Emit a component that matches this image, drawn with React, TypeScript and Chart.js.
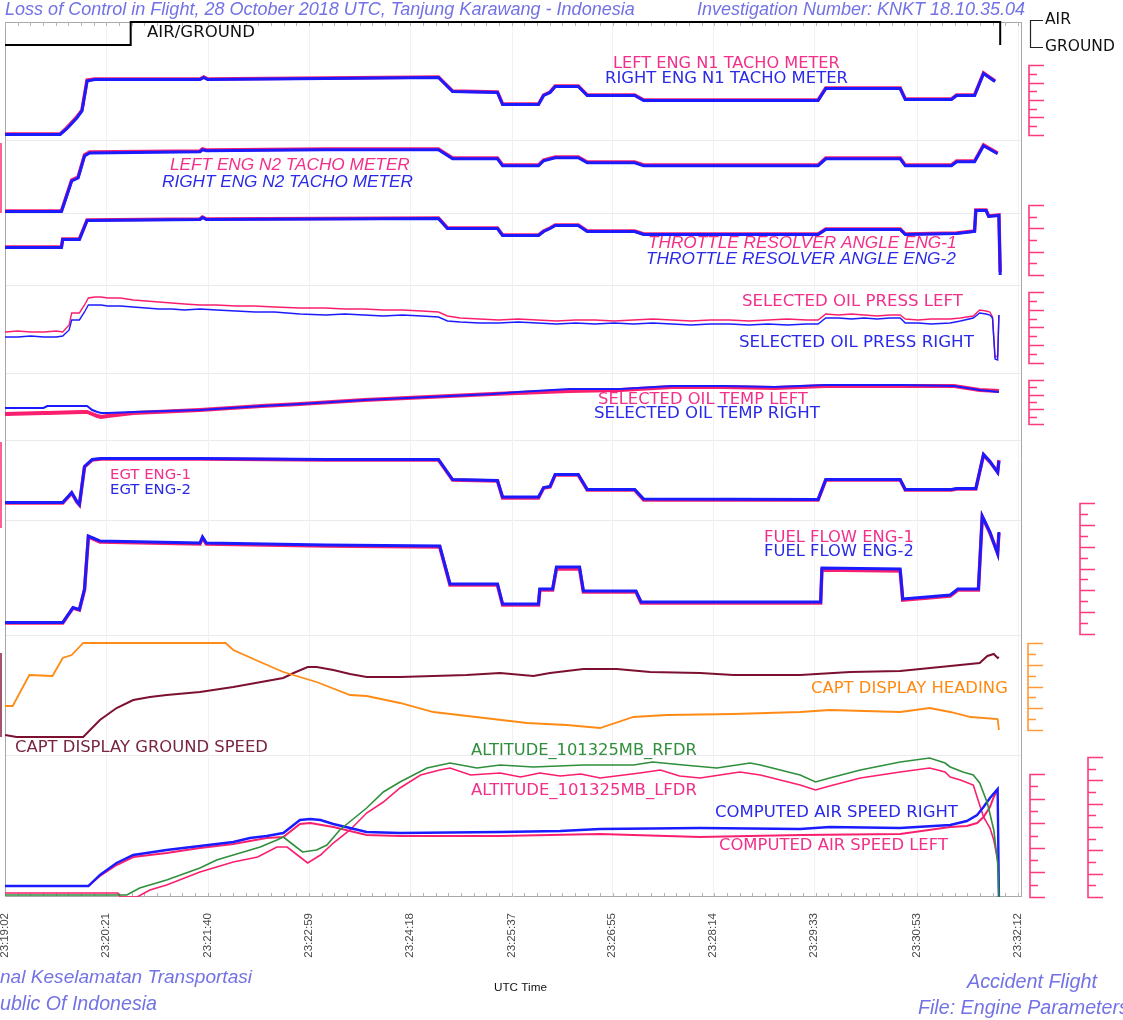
import React, { useEffect, useRef } from "react";
import { Chart, registerables } from "chart.js";

Chart.register(...registerables);

// ---------------- X axis (seconds after 23:19:02) ----------------
const tickSeconds = [0, 79, 158, 237, 316, 395, 473, 552, 631, 711, 790];
const tickLabels = ["23:19:02", "23:20:21", "23:21:40", "23:22:59", "23:24:18", "23:25:37", "23:26:55", "23:28:14", "23:29:33", "23:30:53", "23:32:12"];

// ---------------- AIR / GROUND (1 = air) ----------------
const agTime = [0, 98, 776];
const agValue = [0, 1, 0];

// ---------------- N1 (%) ----------------
const n1Time = [0, 43, 48, 56, 60, 64, 70, 152, 155, 158, 250, 338, 349, 384, 388, 416, 420, 425, 429, 447, 454, 491, 498, 634, 640, 698, 702, 738, 742, 756, 763, 772];
const n1Left = [31, 31, 37, 48, 55, 85, 86, 86, 88, 86, 87, 88, 74, 73, 61, 61, 70, 73, 79, 79, 70, 70, 65, 65, 77, 77, 66, 66, 70, 70, 92, 84];
const n1Right = [30.5, 30.5, 36, 47, 54, 84, 85.5, 85.5, 87.5, 85.5, 86.5, 87.5, 73.5, 72.5, 60.5, 60.5, 69.5, 72.5, 78.5, 78.5, 69.5, 69.5, 64.5, 64.5, 76.5, 76.5, 65.5, 65.5, 69.5, 69.5, 91.5, 83.5];

// ---------------- N2 (%) ----------------
const n2Time = [0, 44, 52, 57, 62, 66, 152, 154, 157, 250, 338, 349, 384, 388, 416, 420, 429, 447, 454, 491, 498, 634, 640, 698, 702, 738, 742, 756, 763, 774];
const n2Left = [60, 60, 75.5, 77, 88, 89.5, 90, 91, 90.5, 91, 91, 86.5, 86.5, 83, 83, 85.5, 87, 87, 84.5, 84.5, 83, 83, 86.5, 86.5, 83, 83, 85, 85, 93, 89];
const n2Right = [59.7, 59.7, 75, 76.5, 87.5, 89, 89.6, 90.6, 90.1, 90.6, 90.6, 86.1, 86.1, 82.6, 82.6, 85.1, 86.6, 86.6, 84.1, 84.1, 82.6, 82.6, 86.1, 86.1, 82.6, 82.6, 84.6, 84.6, 92.6, 88.6];

// ---------------- Throttle resolver angle (deg) ----------------
const traTime = [0, 44, 45, 58, 64, 152, 154, 157, 338, 345, 384, 388, 416, 420, 425, 429, 447, 454, 491, 498, 634, 640, 698, 702, 742, 756, 757, 765, 767, 775, 776];
const traLeft = [33, 33, 41, 41, 60, 61, 63, 61, 62, 52, 52, 45, 45, 49, 52, 55, 55, 49, 49, 46, 46, 51, 51, 46, 47, 49, 70, 70, 64, 65, 8];
const traRight = [32.5, 32.5, 40.5, 40.5, 59.5, 60.5, 62.5, 60.5, 61.5, 51.5, 51.5, 44.5, 44.5, 48.5, 51.5, 54.5, 54.5, 48.5, 48.5, 45.5, 45.5, 50.5, 50.5, 45.5, 46.5, 48.5, 69.5, 69.5, 63.5, 64.5, 5];

// ---------------- Oil pressure (psi) ----------------
const opTime = [0, 10, 20, 30, 40, 45, 50, 52, 58, 62, 65, 70, 75, 80, 90, 100, 110, 120, 130, 140, 152, 165, 180, 195, 210, 230, 250, 265, 280, 295, 310, 325, 338, 345, 355, 370, 385, 400, 415, 430, 445, 460, 475, 490, 505, 520, 535, 550, 565, 580, 595, 610, 625, 634, 640, 650, 660, 670, 680, 690, 698, 702, 712, 722, 737, 745, 755, 760, 765, 768, 770, 772, 774, 775];
const opLeft = [31, 32, 31, 31, 32, 31, 38, 50, 50, 58, 65, 66, 66, 65, 65, 63, 62, 61, 60, 59, 58, 58, 57, 57, 56, 55, 55, 54, 54, 53, 53, 52, 51, 47, 45, 44, 43, 44, 43, 42, 43, 43, 42, 43, 44, 43, 42, 43, 43, 42, 43, 44, 43, 43, 49, 48, 49, 48, 47, 48, 48, 44, 43, 44, 44, 45, 47, 53, 52, 51, 46, 6, 7, 48];
const opRight = [26, 26, 27, 26, 26, 27, 33, 43, 43, 51, 58, 58, 58, 57, 57, 56, 55, 54, 54, 53, 54, 53, 52, 51, 51, 49, 48, 49, 48, 47, 48, 47, 46, 42, 41, 40, 40, 41, 40, 39, 40, 39, 40, 39, 40, 39, 38, 39, 39, 38, 39, 38, 39, 39, 45, 45, 44, 45, 44, 45, 45, 40, 40, 39, 40, 42, 45, 50, 49, 48, 45, 4, 3, 48];

// ---------------- Oil temperature (deg C) ----------------
const otTime = [0, 30, 33, 60, 64, 68, 72, 75, 80, 100, 152, 200, 230, 280, 330, 380, 400, 440, 480, 520, 560, 600, 640, 700, 740, 760, 775];
const otLeft = [62, 64, 64, 66, 66, 62, 58, 56, 58, 64, 70, 78, 82, 90, 96, 102, 104, 108, 110, 116, 116, 114, 118, 118, 118, 110, 108];
const otRight = [74, 74, 78, 78, 78, 70, 66, 64, 64, 66, 70, 78, 82, 90, 96, 102, 106, 112, 112, 118, 118, 116, 120, 120, 118, 110, 106];

// ---------------- EGT (deg C) ----------------
const egtTime = [0, 45, 50, 52, 56, 58, 62, 68, 75, 152, 250, 338, 349, 384, 388, 416, 420, 425, 429, 447, 454, 491, 498, 634, 640, 698, 702, 738, 742, 757, 763, 768, 774, 775];
const egtLeft = [370, 370, 440, 470, 380, 350, 730, 800, 810, 810, 800, 800, 600, 590, 420, 420, 520, 530, 650, 650, 500, 500, 400, 400, 600, 600, 500, 500, 510, 510, 850, 780, 680, 800];
const egtRight = [375, 375, 445, 475, 385, 355, 735, 805, 815, 815, 805, 805, 605, 595, 430, 430, 525, 535, 655, 655, 505, 505, 410, 405, 605, 605, 505, 505, 515, 515, 855, 785, 675, 790];

// ---------------- Fuel flow (pph) ----------------
const ffTime = [0, 45, 53, 58, 62, 65, 74, 152, 154, 157, 250, 339, 347, 384, 388, 416, 417, 427, 430, 448, 451, 492, 496, 636, 637, 698, 700, 737, 743, 759, 762, 768, 774, 775];
const ffLeft = [850, 850, 1600, 1500, 2500, 5150, 4900, 4800, 5100, 4800, 4700, 4650, 2750, 2750, 1750, 1750, 2500, 2500, 3550, 3550, 2400, 2400, 1850, 1850, 3500, 3450, 2000, 2200, 2500, 2500, 6150, 5350, 4350, 5350];
const ffRight = [870, 870, 1620, 1520, 2550, 5200, 4950, 4850, 5150, 4850, 4750, 4700, 2800, 2800, 1800, 1800, 2550, 2550, 3650, 3650, 2450, 2450, 1900, 1900, 3600, 3550, 2050, 2250, 2550, 2550, 6200, 5400, 4300, 5400];

// ---------------- Heading (deg) / Ground speed (kt) ----------------
const hdgTime = [0, 6, 19, 37, 45, 52, 61, 172, 178, 199, 217, 243, 269, 282, 308, 334, 407, 438, 464, 490, 516, 568, 620, 643, 698, 721, 737, 753, 774, 775];
const hdgValue = [96, 96, 220, 216, 288, 300, 348, 348, 320, 272, 232, 192, 140, 136, 108, 72, 28, 20, 8, 52, 60, 64, 72, 80, 72, 88, 72, 52, 44, 0];
const gsTime = [0, 9, 61, 74, 87, 100, 113, 126, 152, 178, 204, 217, 225, 236, 243, 256, 269, 282, 308, 360, 386, 412, 425, 451, 477, 503, 542, 568, 620, 659, 698, 737, 760, 766, 771, 774, 775];
const gsValue = [10, 0, 0, 85, 145, 185, 200, 210, 225, 250, 280, 295, 320, 350, 350, 335, 315, 300, 300, 310, 320, 305, 320, 340, 340, 325, 320, 310, 310, 325, 330, 355, 370, 405, 415, 395, 400];

// ---------------- Altitude (ft) ----------------
const altRTime = [0, 95, 105, 126, 152, 165, 178, 199, 212, 217, 225, 232, 243, 251, 261, 282, 295, 308, 329, 347, 368, 386, 412, 451, 490, 505, 529, 555, 581, 589, 620, 632, 643, 667, 698, 721, 733, 737, 747, 755, 760, 766, 771, 774, 775];
const altRValue = [80, 80, 360, 680, 1160, 1480, 1680, 2000, 2280, 2400, 2080, 1800, 1880, 2080, 2680, 3560, 4200, 4600, 5160, 5360, 5160, 5280, 5200, 5280, 5280, 5400, 5280, 5160, 5360, 5280, 4880, 4600, 4760, 5080, 5400, 5560, 5360, 5200, 5000, 4880, 4560, 3760, 2680, 1360, 0];
const altLTime = [0, 88, 90, 103, 113, 126, 152, 178, 197, 212, 220, 230, 236, 246, 256, 269, 282, 295, 308, 324, 339, 347, 363, 386, 402, 417, 433, 449, 464, 495, 511, 526, 542, 573, 589, 620, 632, 643, 667, 698, 721, 733, 737, 745, 755, 763, 768, 771, 774];
const altLValue = [160, 160, 0, 0, 280, 480, 1000, 1400, 1600, 2000, 2000, 1600, 1360, 1680, 2160, 2680, 3360, 3800, 4360, 4880, 5080, 5160, 4880, 4960, 4800, 4960, 4840, 4920, 4760, 4960, 5080, 4840, 4760, 5000, 4880, 4480, 4280, 4440, 4760, 5000, 5160, 5000, 4800, 4680, 4480, 3200, 2760, 2280, 1480];

// ---------------- Computed air speed (kt) ----------------
const casRTime = [0, 65, 74, 87, 100, 126, 152, 178, 191, 204, 217, 230, 238, 246, 256, 269, 282, 308, 386, 433, 464, 542, 620, 643, 698, 737, 750, 758, 763, 768, 774, 775];
const casRValue = [33, 33, 66, 102, 126, 141, 153, 165, 177, 183, 192, 231, 234, 231, 219, 207, 195, 192, 195, 198, 204, 207, 204, 210, 207, 216, 228, 246, 270, 297, 324, 0];
const casLTime = [0, 65, 74, 87, 100, 126, 152, 178, 204, 217, 230, 238, 256, 282, 308, 386, 464, 542, 620, 698, 737, 750, 758, 763, 768, 771, 774];
const casLValue = [33, 33, 63, 96, 120, 132, 147, 159, 177, 180, 219, 222, 210, 186, 183, 183, 189, 180, 186, 189, 210, 213, 222, 240, 270, 300, 321];

// ---------------- styles / layout ----------------
const PINK = "#fa1f6e";
const BLUE = "#1b1bff";
const PINK_TXT = "#f2308a";
const BLUE_TXT = "#2a2ae8";
const ORANGE = "#ff8a14";
const MAROON = "#7d1030";
const GREEN = "#2f8f3c";
const HEAD = "#7272e6";

const CA_TOP = 22;
const CA_BOTTOM = 897;
const CA_LEFT = 5;
const CA_RIGHT = 1022;

// maps vLo -> pixel pxLo and vHi -> pixel pxHi, returns axis min/max for the full plot height
function band(pxLo: number, vLo: number, pxHi: number, vHi: number) {
  const k = (pxLo - pxHi) / (vHi - vLo);
  return { min: vLo - (CA_BOTTOM - pxLo) / k, max: vHi + (pxHi - CA_TOP) / k };
}

const axisBands: Record<string, { min: number; max: number }> = {
  ag: band(45, 0, 22, 1),
  n1: band(135, 30, 65, 100),
  n2: band(211, 60, 151, 90),
  tra: band(275, 5, 205, 75),
  oilp: band(363, 0, 292, 71),
  oilt: band(424, 42, 380, 130),
  egt: band(540, 0, 440, 1000),
  ff: band(634, 300, 503, 6850),
  hdg: band(730, 0, 643, 348),
  gs: band(737, 0, 657, 400),
  alt: band(897, 0, 757, 5600),
  cas: band(897, 0, 774, 369),
};

const brackets = [
  { axis: "n1", x: 1029, from: 30, to: 100, n: 8, color: "#ff3a7c" },
  { axis: "tra", x: 1029, from: 5, to: 75, n: 6, color: "#ff3a7c" },
  { axis: "oilp", x: 1029, from: 0, to: 71, n: 8, color: "#ff3a7c" },
  { axis: "oilt", x: 1029, from: 42, to: 130, n: 6, color: "#ff3a7c" },
  { axis: "ff", x: 1080, from: 300, to: 6850, n: 12, color: "#ff3a7c" },
  { axis: "hdg", x: 1028, from: 0, to: 348, n: 8, color: "#ff9a3a" },
  { axis: "cas", x: 1030, from: 0, to: 369, n: 10, color: "#ff3a7c" },
  { axis: "alt", x: 1088, from: 0, to: 5600, n: 12, color: "#ff3a7c" },
  { axis: "n2", x: 1, from: 59, to: 94, n: 0, color: "#ff3a7c" },
  { axis: "egt", x: 1, from: 120, to: 980, n: 0, color: "#ff3a7c" },
  { axis: "gs", x: 1, from: 0, to: 420, n: 0, color: "#8b2a48" },
];

const SANS = '"DejaVu Sans"';
const ARIAL = '"Liberation Sans"';

// w: target width in px (font size fitted); size: fixed font size instead
const labels: any[] = [
  { text: "AIR/GROUND", x: 147, y: 33, w: 108, color: "#111", fam: SANS, style: "normal" },
  { text: "LEFT ENG N1 TACHO METER", x: 613, y: 64, w: 227, color: PINK_TXT, fam: SANS, style: "normal" },
  { text: "RIGHT ENG N1 TACHO METER", x: 605, y: 79, w: 243, color: BLUE_TXT, fam: SANS, style: "normal" },
  { text: "LEFT ENG N2 TACHO METER", x: 170, y: 165, w: 240, color: PINK_TXT, fam: ARIAL, style: "italic" },
  { text: "RIGHT ENG N2 TACHO METER", x: 162, y: 182, w: 251, color: BLUE_TXT, fam: ARIAL, style: "italic" },
  { text: "THROTTLE RESOLVER ANGLE ENG-1", x: 648, y: 243, w: 309, color: PINK_TXT, fam: ARIAL, style: "italic" },
  { text: "THROTTLE RESOLVER ANGLE ENG-2", x: 646, y: 259, w: 310, color: BLUE_TXT, fam: ARIAL, style: "italic" },
  { text: "SELECTED OIL PRESS LEFT", x: 742, y: 302, w: 221, color: PINK_TXT, fam: SANS, style: "normal" },
  { text: "SELECTED OIL PRESS RIGHT", x: 739, y: 343, w: 235, color: BLUE_TXT, fam: SANS, style: "normal" },
  { text: "SELECTED OIL TEMP LEFT", x: 598, y: 400, w: 210, color: PINK_TXT, fam: SANS, style: "normal" },
  { text: "SELECTED OIL TEMP RIGHT", x: 594, y: 414, w: 226, color: BLUE_TXT, fam: SANS, style: "normal" },
  { text: "EGT ENG-1", x: 110, y: 475, w: 81, color: PINK_TXT, fam: SANS, style: "normal" },
  { text: "EGT ENG-2", x: 110, y: 490, w: 81, color: BLUE_TXT, fam: SANS, style: "normal" },
  { text: "FUEL FLOW ENG-1", x: 764, y: 538, w: 150, color: PINK_TXT, fam: SANS, style: "normal" },
  { text: "FUEL FLOW ENG-2", x: 764, y: 552, w: 150, color: BLUE_TXT, fam: SANS, style: "normal" },
  { text: "CAPT DISPLAY HEADING", x: 811, y: 689, w: 197, color: ORANGE, fam: SANS, style: "normal" },
  { text: "CAPT DISPLAY GROUND SPEED", x: 15, y: 748, w: 253, color: "#7a2440", fam: SANS, style: "normal" },
  { text: "ALTITUDE_101325MB_RFDR", x: 471, y: 751, w: 226, color: GREEN, fam: SANS, style: "normal" },
  { text: "ALTITUDE_101325MB_LFDR", x: 471, y: 791, w: 226, color: PINK_TXT, fam: SANS, style: "normal" },
  { text: "COMPUTED AIR SPEED RIGHT", x: 715, y: 813, w: 243, color: BLUE_TXT, fam: SANS, style: "normal" },
  { text: "COMPUTED AIR SPEED LEFT", x: 719, y: 846, w: 229, color: PINK_TXT, fam: SANS, style: "normal" },
  { text: "AIR", x: 1045, y: 20, size: 15.5, color: "#111", fam: SANS, style: "normal" },
  { text: "GROUND", x: 1045, y: 47, size: 15.5, color: "#111", fam: SANS, style: "normal" },
  { text: "UTC Time", x: 494, y: 988, w: 53, color: "#111", fam: ARIAL, style: "normal" },
  { text: "Loss of Control in Flight, 28 October 2018 UTC, Tanjung Karawang - Indonesia", x: 5, y: 10, w: 630, color: HEAD, fam: ARIAL, style: "italic" },
  { text: "Investigation Number: KNKT 18.10.35.04", x: 697, y: 10, w: 328, color: HEAD, fam: ARIAL, style: "italic" },
  { text: "nal Keselamatan Transportasi", x: 0, y: 978, w: 252, color: HEAD, fam: ARIAL, style: "italic" },
  { text: "ublic Of Indonesia", x: 0, y: 1005, w: 157, color: HEAD, fam: ARIAL, style: "italic" },
  { text: "Accident Flight", x: 967, y: 982, w: 130, color: HEAD, fam: ARIAL, style: "italic" },
  { text: "File: Engine Parameters", x: 918, y: 1009, w: 211, color: HEAD, fam: ARIAL, style: "italic" },
];

const separatorsY = [140, 213, 285, 373, 440, 520, 635, 755];

function pts(ts: number[], vs: number[]) {
  return ts.map((t, i) => ({ x: t, y: vs[i] }));
}

function line(label: string, ts: number[], vs: number[], axis: string, color: string, width: number, order: number, extra: any = {}) {
  return {
    label,
    data: pts(ts, vs),
    yAxisID: axis,
    borderColor: color,
    backgroundColor: color,
    borderWidth: width,
    pointRadius: 0,
    fill: false,
    tension: 0,
    order,
    ...extra,
  };
}

const decorPlugin = {
  id: "decor",
  beforeDatasetsDraw(chart: any) {
    const ctx = chart.ctx;
    const { left, right, top, bottom } = chart.chartArea;
    const xs = chart.scales.x;
    ctx.save();
    ctx.lineWidth = 1;
    ctx.strokeStyle = "#e9e9ee";
    separatorsY.forEach((y) => {
      ctx.beginPath();
      ctx.moveTo(left, y + 0.5);
      ctx.lineTo(right, y + 0.5);
      ctx.stroke();
    });
    ctx.strokeStyle = "#f1f1f4";
    tickSeconds.forEach((t) => {
      const x = Math.round(xs.getPixelForValue(t)) + 0.5;
      ctx.beginPath();
      ctx.moveTo(x, top);
      ctx.lineTo(x, bottom);
      ctx.stroke();
    });
    // frame
    ctx.strokeStyle = "#a8a8a8";
    ctx.beginPath();
    ctx.moveTo(left + 0.5, top);
    ctx.lineTo(left + 0.5, bottom);
    ctx.moveTo(right - 0.5, top);
    ctx.lineTo(right - 0.5, bottom);
    ctx.moveTo(left, bottom - 0.5);
    ctx.lineTo(right, bottom - 0.5);
    ctx.moveTo(left, top + 0.5);
    ctx.lineTo(right, top + 0.5);
    ctx.stroke();
    // minor ticks
    ctx.strokeStyle = "#b4b4b4";
    for (let t = 0; t <= xs.max; t += 79 / 8) {
      const x = Math.round(xs.getPixelForValue(t)) + 0.5;
      ctx.beginPath();
      ctx.moveTo(x, bottom);
      ctx.lineTo(x, bottom - 4);
      ctx.moveTo(x, top);
      ctx.lineTo(x, top + 4);
      ctx.stroke();
    }
    ctx.restore();
  },
  afterDraw(chart: any) {
    const ctx = chart.ctx;
    ctx.save();
    // brackets
    brackets.forEach((b) => {
      const s = chart.scales[b.axis];
      const y0 = s.getPixelForValue(b.from);
      const y1 = s.getPixelForValue(b.to);
      ctx.strokeStyle = b.color;
      ctx.lineWidth = 1.6;
      ctx.beginPath();
      ctx.moveTo(b.x, y0);
      ctx.lineTo(b.x, y1);
      for (let i = 0; i <= b.n && b.n > 0; i++) {
        const v = b.from + ((b.to - b.from) * i) / b.n;
        const y = Math.round(s.getPixelForValue(v)) + 0.5;
        const len = i % 2 === 0 ? 15 : 8;
        ctx.moveTo(b.x - 0.8, y);
        ctx.lineTo(b.x + len, y);
      }
      ctx.stroke();
    });
    // AIR / GROUND legend bracket
    const ag = chart.scales.ag;
    const ya = Math.round(ag.getPixelForValue(1)) - 1.5;
    const yg = Math.round(ag.getPixelForValue(0)) + 2.5;
    ctx.strokeStyle = "#222";
    ctx.lineWidth = 1.2;
    ctx.beginPath();
    ctx.moveTo(1043, ya);
    ctx.lineTo(1030.5, ya);
    ctx.lineTo(1030.5, yg);
    ctx.lineTo(1043, yg);
    ctx.stroke();
    // texts
    ctx.textAlign = "left";
    ctx.textBaseline = "middle";
    labels.forEach((l) => {
      let size = l.size;
      if (!size) {
        ctx.font = `${l.style} 20px ${l.fam}`;
        const m = ctx.measureText(l.text).width;
        size = (20 * l.w) / m;
      }
      ctx.font = `${l.style} ${size.toFixed(2)}px ${l.fam}`;
      ctx.fillStyle = l.color;
      ctx.fillText(l.text, l.x, l.y);
    });
    ctx.restore();
  },
};

export default function App() {
  const ref = useRef<HTMLCanvasElement | null>(null);
  useEffect(() => {
    document.body.style.margin = "0";
    const canvas = ref.current;
    if (!canvas) return;
    const yScales: any = {};
    Object.keys(axisBands).forEach((id) => {
      yScales[id] = { type: "linear", display: false, min: axisBands[id].min, max: axisBands[id].max };
    });
    const chart = new Chart(canvas, {
      type: "line",
      data: {
        datasets: [
          line("AIR/GROUND", agTime, agValue, "ag", "#000", 2, 0, { stepped: true, clip: false }),
          line("RIGHT ENG N1 TACHO METER", n1Time, n1Right, "n1", BLUE, 3, 0),
          line("LEFT ENG N1 TACHO METER", n1Time, n1Left, "n1", PINK, 3.5, 1),
          line("RIGHT ENG N2 TACHO METER", n2Time, n2Right, "n2", BLUE, 3, 0),
          line("LEFT ENG N2 TACHO METER", n2Time, n2Left, "n2", PINK, 3.5, 1),
          line("THROTTLE RESOLVER ANGLE ENG-2", traTime, traRight, "tra", BLUE, 3, 0),
          line("THROTTLE RESOLVER ANGLE ENG-1", traTime, traLeft, "tra", PINK, 3.5, 1),
          line("SELECTED OIL PRESS RIGHT", opTime, opRight, "oilp", BLUE, 1.4, 0),
          line("SELECTED OIL PRESS LEFT", opTime, opLeft, "oilp", PINK, 1.4, 1),
          line("SELECTED OIL TEMP RIGHT", otTime, otRight, "oilt", BLUE, 2, 0),
          line("SELECTED OIL TEMP LEFT", otTime, otLeft, "oilt", PINK, 4, 1),
          line("EGT ENG-2", egtTime, egtRight, "egt", BLUE, 3, 0),
          line("EGT ENG-1", egtTime, egtLeft, "egt", PINK, 3.5, 1),
          line("FUEL FLOW ENG-2", ffTime, ffRight, "ff", BLUE, 3, 0),
          line("FUEL FLOW ENG-1", ffTime, ffLeft, "ff", PINK, 3.5, 1),
          line("CAPT DISPLAY HEADING", hdgTime, hdgValue, "hdg", ORANGE, 1.8, 0),
          line("CAPT DISPLAY GROUND SPEED", gsTime, gsValue, "gs", MAROON, 2, 0),
          line("ALTITUDE_101325MB_RFDR", altRTime, altRValue, "alt", GREEN, 1.6, 0),
          line("ALTITUDE_101325MB_LFDR", altLTime, altLValue, "alt", PINK, 1.6, 1),
          line("COMPUTED AIR SPEED RIGHT", casRTime, casRValue, "cas", BLUE, 2.4, 0),
          line("COMPUTED AIR SPEED LEFT", casLTime, casLValue, "cas", PINK, 2, 1),
        ] as any,
      },
      options: {
        responsive: false,
        devicePixelRatio: 1,
        animation: false,
        events: [],
        layout: { padding: { left: CA_LEFT, right: 1123 - CA_RIGHT, top: CA_TOP, bottom: 0 } },
        plugins: { legend: { display: false }, tooltip: { enabled: false }, title: { display: false } },
        scales: {
          x: {
            type: "linear",
            min: 0,
            max: 793,
            grid: { display: false },
            border: { display: false },
            afterBuildTicks: (axis: any) => {
              axis.ticks = tickSeconds.map((v) => ({ value: v }));
            },
            afterFit: (scale: any) => {
              scale.height = 1020 - CA_BOTTOM;
              scale.paddingLeft = 0;
              scale.paddingRight = 0;
            },
            ticks: {
              autoSkip: false,
              minRotation: 90,
              maxRotation: 90,
              padding: 8,
              color: "#4a4a4a",
              font: { family: "Liberation Sans", size: 11.5 },
              callback: (_v: any, i: number) => tickLabels[i] ?? "",
            },
          },
          ...yScales,
        },
      } as any,
      plugins: [decorPlugin],
    });
    return () => chart.destroy();
  }, []);
  return (
    <div style={{ width: 1123, height: 1020, background: "#fff", overflow: "hidden" }}>
      <canvas ref={ref} width={1123} height={1020} style={{ display: "block", width: 1123, height: 1020 }} />
    </div>
  );
}
